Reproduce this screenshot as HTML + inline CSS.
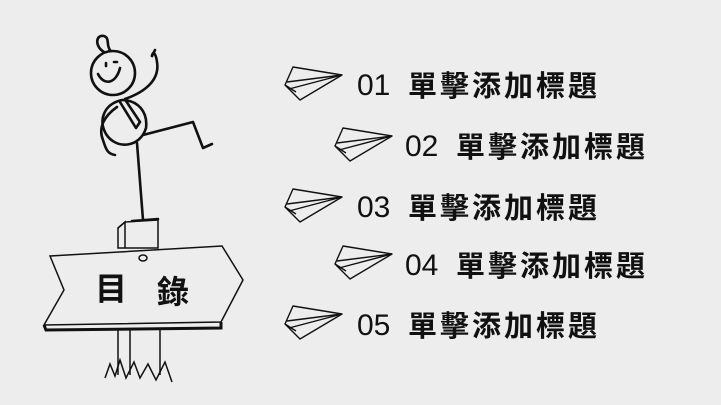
<!DOCTYPE html><html><head><meta charset="utf-8"><style>
body{margin:0;width:721px;height:405px;background:#ededed;overflow:hidden}
svg{position:absolute;left:0;top:0}
text{font-family:"Liberation Sans","Noto Sans CJK TC",sans-serif;fill:#111}
</style></head><body>
<svg width="721" height="405" viewBox="0 0 721 405">
<defs>
<g id="plane" fill="none" stroke="#111" stroke-width="1.4" stroke-linejoin="round">
<path d="M10 1 L59 9 L17 34 L2 19 L10 1 Z"/>
<path d="M4 16 L59 9 M6 23 L59 9 M2 19 L13 26"/>
</g>
</defs>
<g fill="none" stroke="#111" stroke-width="2.6" stroke-linecap="round" stroke-linejoin="round">
<circle cx="113" cy="73" r="22"/>
<path d="M104 52 C94 46 96 34 104 36 C110 38 106 45 110 50"/>
<path d="M98 74 C104 86 116 84 120 68"/>
<path d="M106 63 v3 M114 62 h3"/>
<path d="M122 100 C104 104 98 120 106 134 C116 150 140 148 146 128 C148 112 138 100 122 100Z"/>
<path d="M120 102 L136 128 L140 122 L126 101"/>
<path d="M125 99 C145 92 160 80 157 62 C156 54 153 50 152 56"/>
<path d="M152 56 L155 50"/>
<path d="M117 107 C104 116 98 128 103 140 C106 150 108 154 115 155"/>
<path d="M143 135 L193 122 L203 148 L212 144"/>
<path d="M137 143 L143 220 M132 221 L158 219"/>
</g>
<g fill="none" stroke="#111" stroke-width="1.5">
<path d="M125 222 L158 220 L158 248 L118 248 L118 228 Z"/>
<path d="M118 228 L125 222 L125 248" />
<path d="M50 256 L222 246 L243 280 L221 322 L44 325 L64 290 Z" fill="#ededed"/>
<path d="M44 325 L46 330 L221 328 L221 322" stroke-width="3"/>
<path d="M118 330 V375 M130 330 V375 M160 328 V375"/>
<path d="M105 378 L110 364 L115 376 L120 360 L126 378 L134 362 L140 378 L148 364 L156 380 L165 362 L172 382"/>
<ellipse cx="143" cy="258" rx="4" ry="3"/>
</g>
<text x="95" y="300" font-size="32" font-weight="bold">目</text>
<text x="157" y="303" font-size="32" font-weight="bold">錄</text>
<use href="#plane" x="283" y="66"/>
<use href="#plane" x="333" y="127"/>
<use href="#plane" x="283" y="188"/>
<use href="#plane" x="333" y="245"/>
<use href="#plane" x="283" y="305"/>
<g font-size="30">
<text x="357" y="95">01</text><text x="405" y="156">02</text><text x="357" y="217">03</text><text x="405" y="275">04</text><text x="357" y="335">05</text>
</g>
<g font-size="29" font-weight="bold" letter-spacing="3">
<text x="408" y="96">單擊添加標題</text>
<text x="456" y="157">單擊添加標題</text>
<text x="408" y="218">單擊添加標題</text>
<text x="456" y="276">單擊添加標題</text>
<text x="408" y="336">單擊添加標題</text>
</g>
</svg>
</body></html>
